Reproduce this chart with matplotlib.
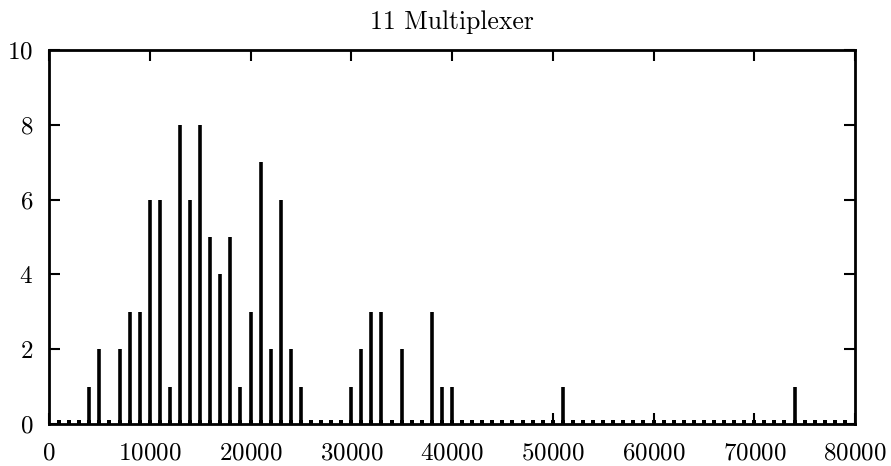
import matplotlib.pyplot as plt
import numpy as np

# positions (thousands) with non-zero counts, and their counts
pos_k = [4, 5, 7, 8, 9, 10, 11, 12, 13, 14, 15, 16, 17, 18, 19, 20, 21, 22, 23, 24, 25,
         30, 31, 32, 33, 35, 38, 39, 40, 51, 74]
counts = [1, 2, 2, 3, 3, 6, 6, 1, 8, 6, 8, 5, 4, 5, 1, 3, 7, 2, 6, 2, 1,
          1, 2, 3, 3, 2, 3, 1, 1, 1, 1]
# all sampled positions (thousands), zero where not listed above
all_k = list(range(1, 80))

x = np.array(all_k) * 1000
y = np.zeros(len(all_k))
for p, c in zip(pos_k, counts):
    y[all_k.index(p)] = c

plt.rcParams['font.family'] = 'cmr10'
plt.rcParams['axes.formatter.use_mathtext'] = True

fig = plt.figure(figsize=(8.91, 4.66), dpi=100)
ax = fig.add_axes([0.055, 0.0901, 0.9046, 0.8026])

ax.vlines(x, 0, y, color='black', linewidth=2.6)
ax.plot(x, y * 0 + 0.05, 's', color='black', ms=2.3, mew=0)

ax.set_xlim(0, 80000)
ax.set_ylim(0, 10)
ax.set_xticks(np.arange(0, 80001, 10000))
ax.set_yticks(np.arange(0, 11, 2))
ax.tick_params(direction='in', length=8, width=1.5, labelsize=18, pad=11.5,
               top=True, right=True)
ax.tick_params(axis='x', pad=13)
for s in ax.spines.values():
    s.set_linewidth(2)

ax.set_title('11 Multiplexer', fontsize=18.5, pad=15)

fig.savefig('out.png', dpi=100)
